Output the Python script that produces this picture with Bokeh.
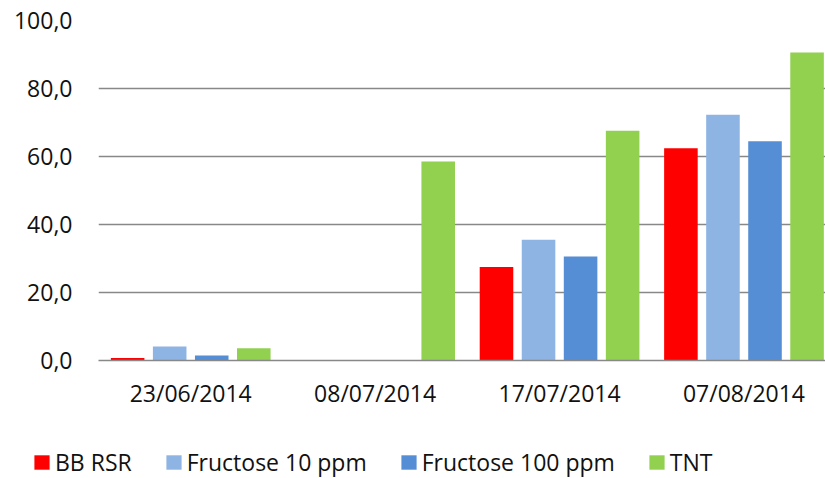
from bokeh.plotting import figure
from bokeh.models import Range1d, FixedTicker, Legend, LegendItem, ColumnDataSource
from bokeh.layouts import column
from bokeh.embed import file_html
from bokeh.resources import INLINE

categories = ["23/06/2014", "08/07/2014", "17/07/2014", "07/08/2014"]
series_names = ["BB RSR", "Fructose 10 ppm", "Fructose 100 ppm", "TNT"]
bb_rsr = [0.7, 0.0, 27.5, 62.4]
fructose_10 = [4.1, 0.0, 35.5, 72.3]
fructose_100 = [1.5, 0.0, 30.6, 64.5]
tnt = [3.6, 58.5, 67.6, 90.6]
y_ticks = [0, 20, 40, 60, 80, 100]

colors = ["#FF0000", "#8EB4E3", "#558ED5", "#92D050"]
offsets = [-0.342, -0.114, 0.114, 0.342]
FONT = "Open Sans"

p = figure(width=825, height=420, output_backend="svg", toolbar_location=None,
           x_range=Range1d(0, 3.942), y_range=Range1d(0, 100),
           min_border_left=98, min_border_right=0, min_border_top=20,
           min_border_bottom=60)
p.frame_align = False
p.outline_line_color = None
p.background_fill_color = "white"
p.border_fill_color = "white"

for vals, col, off in zip([bb_rsr, fructose_10, fructose_100, tnt], colors, offsets):
    src = ColumnDataSource(dict(x=[i + 0.5 + off for i in range(len(categories))], top=vals))
    p.vbar(x="x", top="top", bottom=0, width=0.182, source=src,
           fill_color=col, line_color=None)

# axes
p.xaxis.ticker = FixedTicker(ticks=[i + 0.5 for i in range(len(categories))])
p.xaxis.major_label_overrides = {i + 0.5: c for i, c in enumerate(categories)}
p.xaxis.major_tick_line_color = None
p.xaxis.minor_tick_line_color = None
p.xaxis.axis_line_color = "#888888"
p.xaxis.axis_line_width = 1.6
p.xaxis.major_label_text_font = FONT
p.xaxis.major_label_text_font_size = "23px"
p.xaxis.major_label_text_color = "#111111"
p.xaxis.major_label_standoff = 10

p.yaxis.ticker = FixedTicker(ticks=y_ticks)
p.yaxis.major_label_overrides = {t: f"{t:.1f}".replace(".", ",") for t in y_ticks}
p.yaxis.major_tick_line_color = None
p.yaxis.minor_tick_line_color = None
p.yaxis.axis_line_color = None
p.yaxis.major_label_text_font = FONT
p.yaxis.major_label_text_font_size = "23px"
p.yaxis.major_label_text_color = "#111111"
p.yaxis.major_label_standoff = 20

p.xgrid.grid_line_color = None
p.ygrid.grid_line_color = "#888888"
p.ygrid.grid_line_width = 1.6

# legend figure (holds only the legend)
lf = figure(width=825, height=58, output_backend="svg", toolbar_location=None,
            x_range=Range1d(0, 1), y_range=Range1d(0, 1),
            min_border_left=0, min_border_right=0, min_border_top=0, min_border_bottom=0)
lf.frame_align = False
lf.axis.visible = False
lf.grid.grid_line_color = None
lf.outline_line_color = None
items = []
for name, col in zip(series_names, colors):
    dummy = ColumnDataSource(dict(x=[0.5], top=[0.0]))
    r = lf.vbar(x="x", top="top", bottom=0, width=0.01, source=dummy,
                fill_color=col, line_color=None)
    items.append(LegendItem(label=name, renderers=[r]))

legend = Legend(items=items, orientation="horizontal", location=(32, 0),
                glyph_width=19, glyph_height=18, label_standoff=4, spacing=32,
                padding=0, margin=0, border_line_color=None, background_fill_alpha=0,
                label_text_font=FONT, label_text_font_size="23px",
                label_text_color="#111111")
lf.add_layout(legend, "center")

layout = column(p, lf, spacing=0)
open("out.html", "w").write(file_html(layout, INLINE))
